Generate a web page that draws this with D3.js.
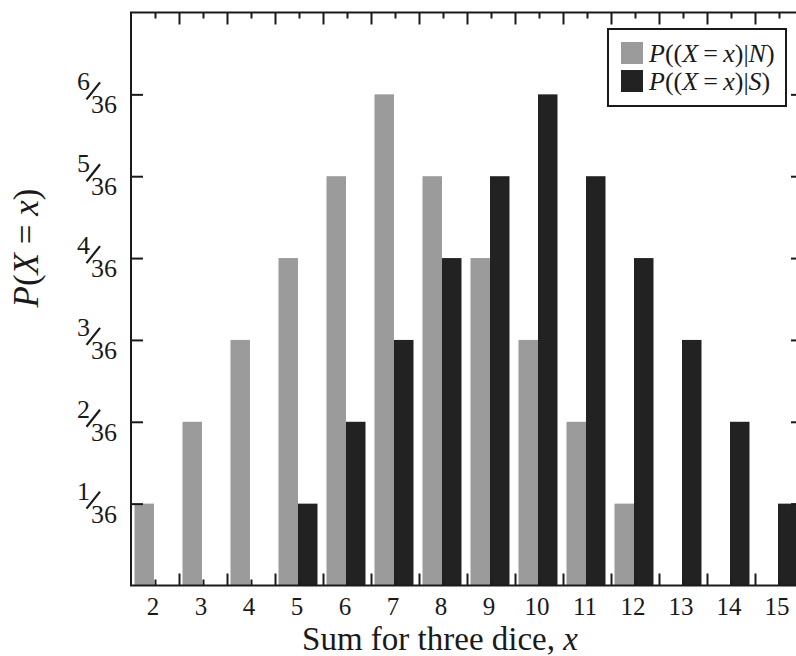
<!DOCTYPE html>
<html>
<head>
<meta charset="utf-8">
<script src="https://cdn.jsdelivr.net/npm/d3@7"></script>
<style>
  html, body { margin: 0; padding: 0; background: #fff; }
  svg { display: block; }
  text { font-family: "Liberation Serif", "DejaVu Serif", serif; fill: #1a1a1a; }
</style>
</head>
<body>
<svg id="chart" width="796" height="656"></svg>
<script>
// Sum of three dice: outcome counts out of 36 for the two distributions
const sums = [2, 3, 4, 5, 6, 7, 8, 9, 10, 11, 12, 13, 14, 15];
const countsN = [1, 2, 3, 4, 5, 6, 5, 4, 3, 2, 1, 0, 0, 0];
const countsS = [0, 0, 0, 1, 2, 3, 4, 5, 6, 5, 4, 3, 2, 1];
const yTickNumerators = [1, 2, 3, 4, 5, 6];
const denominator = 36;
const seriesKeys = ["N", "S"];
const seriesColors = { N: "#9b9b9b", S: "#222222" };

const svg = d3.select("#chart");
const plotLeft = 131, plotRight = 803, plotTop = 12.5, plotBottom = 585.5;
const ink = "#1a1a1a";

const x = d3.scaleBand().domain(sums).range([plotLeft, plotRight]).padding(0);
const xl = d3.scaleLinear().domain([sums[0] - 0.5, sums[sums.length - 1] + 0.5]).range([plotLeft, plotRight]);
const sub = d3.scaleBand().domain(seriesKeys).range([3.5, 42.5]);
const y = d3.scaleLinear().domain([0, 7]).range([plotBottom, plotTop]);

const rows = sums.map((s, i) => ({ sum: s, N: countsN[i], S: countsS[i] }));

// bars
const groups = svg.append("g").selectAll("g").data(rows).join("g")
  .attr("transform", d => `translate(${x(d.sum)},0)`);
groups.selectAll("rect")
  .data(d => seriesKeys.map(k => ({ key: k, value: d[k] })).filter(e => e.value > 0))
  .join("rect")
  .attr("x", e => sub(e.key))
  .attr("width", sub.bandwidth())
  .attr("y", e => y(e.value))
  .attr("height", e => y(0) - y(e.value))
  .attr("fill", e => seriesColors[e.key]);

// tick marks on all four sides
const boundaries = sums.slice(0, -1).map(s => s + 0.5);
function styleAxis(g) {
  g.select(".domain").remove();
  g.selectAll(".tick line").attr("stroke", ink).attr("stroke-width", 2);
  g.selectAll(".tick text").remove();
}
svg.append("g").attr("transform", `translate(0,${plotBottom})`)
  .call(d3.axisBottom(xl).tickValues(boundaries).tickSize(-12)).call(styleAxis);
svg.append("g").attr("transform", `translate(0,${plotBottom})`)
  .call(d3.axisBottom(xl).tickValues(sums).tickSize(-6)).call(styleAxis);
svg.append("g").attr("transform", `translate(0,${plotTop})`)
  .call(d3.axisTop(xl).tickValues(boundaries).tickSize(-12)).call(styleAxis);
svg.append("g").attr("transform", `translate(0,${plotTop})`)
  .call(d3.axisTop(xl).tickValues(sums).tickSize(-6)).call(styleAxis);
svg.append("g").attr("transform", `translate(${plotLeft},0)`)
  .call(d3.axisLeft(y).tickValues(yTickNumerators).tickSize(-12)).call(styleAxis);
svg.append("g").attr("transform", `translate(${plotRight},0)`)
  .call(d3.axisRight(y).tickValues(yTickNumerators).tickSize(-12)).call(styleAxis);

// frame
svg.append("rect")
  .attr("x", plotLeft).attr("y", plotTop)
  .attr("width", plotRight - plotLeft).attr("height", plotBottom - plotTop)
  .attr("fill", "none").attr("stroke", ink).attr("stroke-width", 2);

// x tick labels
svg.append("g").selectAll("text").data(sums).join("text")
  .attr("x", d => x(d) + x.bandwidth() / 2 - 2)
  .attr("y", 615)
  .attr("text-anchor", "middle")
  .attr("font-size", 25)
  .text(d => d);

// y tick labels as split fractions: raised numerator, slanted bar, lowered denominator
const fr = svg.append("g").selectAll("g").data(yTickNumerators).join("g")
  .attr("transform", d => `translate(0,${y(d)})`);
fr.append("text")
  .attr("x", 90).attr("y", -4)
  .attr("text-anchor", "end")
  .attr("font-size", 26)
  .text(d => d);
fr.append("path")
  .attr("d", "M86.5,5L100,-12")
  .attr("stroke", ink).attr("stroke-width", 2.2).attr("fill", "none");
fr.append("text")
  .attr("x", 117).attr("y", 19)
  .attr("text-anchor", "end")
  .attr("font-size", 26)
  .text(denominator);

// axis titles
const xt = svg.append("text")
  .attr("x", 440).attr("y", 650)
  .attr("text-anchor", "middle")
  .attr("font-size", 33);
xt.append("tspan").text("Sum for three dice, ");
xt.append("tspan").attr("font-style", "italic").text("x");

const yt = svg.append("text")
  .attr("transform", "translate(38,248) rotate(-90)")
  .attr("text-anchor", "middle")
  .attr("font-size", 35);
[["P", true], ["(", false], ["X", true], [" = ", false], ["x", true], [")", false]]
  .forEach(([t, it]) => yt.append("tspan").attr("font-style", it ? "italic" : "normal").text(t));

// legend
const legend = svg.append("g");
legend.append("rect")
  .attr("x", 608).attr("y", 29).attr("width", 178).attr("height", 77)
  .attr("fill", "#fff").attr("stroke", ink).attr("stroke-width", 2);
const eq = "\u2009=\u2009";
const legendRows = [
  { key: "N", parts: [["P", true], ["((", false], ["X", true], [eq, false], ["x", true], [")|", false], ["N", true], [")", false]] },
  { key: "S", parts: [["P", true], ["((", false], ["X", true], [eq, false], ["x", true], [")|", false], ["S", true], [")", false]] }
];
const lr = legend.selectAll("g.row").data(legendRows).join("g")
  .attr("class", "row")
  .attr("transform", (d, i) => `translate(621,${42 + i * 28})`);
lr.append("rect")
  .attr("width", 22).attr("height", 22)
  .attr("fill", d => seriesColors[d.key]);
lr.append("text")
  .attr("x", 28).attr("y", 20)
  .attr("font-size", 26)
  .each(function (d) {
    const t = d3.select(this);
    d.parts.forEach(([s, it]) => t.append("tspan").attr("font-style", it ? "italic" : "normal").text(s));
  });
</script>
</body>
</html>
